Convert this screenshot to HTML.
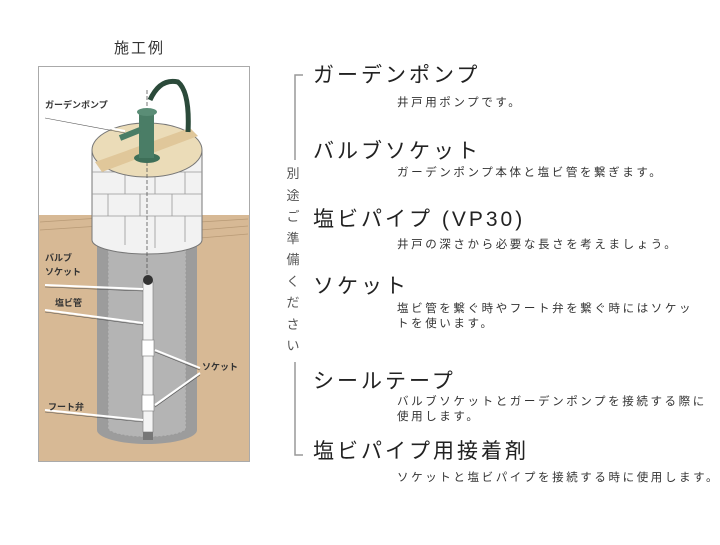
<!DOCTYPE html>
<html><head><meta charset="utf-8"><style>
body{margin:0;width:720px;height:545px;background:#fff;position:relative;overflow:hidden;font-family:"Liberation Sans","Noto Sans CJK JP",sans-serif;color:#222}
.h{position:absolute;left:313px;font-size:21px;letter-spacing:3px;white-space:nowrap;line-height:24px}
.b{position:absolute;left:397px;font-size:11.5px;letter-spacing:2.6px;line-height:15px;white-space:nowrap;color:#333}
.lbl{font-family:"Liberation Sans","Noto Sans CJK JP",sans-serif;font-size:9px;font-weight:bold;fill:#333}
</style></head><body>
<div style="position:absolute;left:114px;top:37px;font-size:15px;letter-spacing:2px;color:#333">施工例</div>
<svg width="720" height="545" style="position:absolute;left:0;top:0">
<rect x="38.5" y="66.5" width="211" height="395" fill="#fff" stroke="#aaa"/>
<rect x="39" y="215" width="210" height="246" fill="#d7b995"/>
<g stroke="#b89a76" stroke-width="0.8">
<line x1="40" y1="222" x2="100" y2="218"/><line x1="40" y1="230" x2="100" y2="226"/><line x1="200" y1="222" x2="248" y2="219"/><line x1="200" y1="230" x2="248" y2="226"/><line x1="200" y1="238" x2="248" y2="234"/></g>
<path d="M97 240 L197 240 L197 430 A50 14 0 0 1 97 430 Z" fill="#9c9c9c"/>
<path d="M108 250 L186 250 L186 428 A39 9 0 0 1 108 428 Z" fill="#b4b4b4" stroke="#999" stroke-dasharray="2 2"/>
<path d="M92 150 L202 150 L202 240 A55 14 0 0 1 92 240 Z" fill="#f2f2f2" stroke="#777"/>
<g stroke="#999" stroke-width="0.8">
<line x1="92" y1="172" x2="202" y2="172"/><line x1="92" y1="194" x2="202" y2="194"/><line x1="92" y1="216" x2="202" y2="216"/>
<line x1="112" y1="150" x2="112" y2="172"/><line x1="140" y1="150" x2="140" y2="172"/><line x1="170" y1="150" x2="170" y2="172"/>
<line x1="125" y1="172" x2="125" y2="194"/><line x1="155" y1="172" x2="155" y2="194"/><line x1="185" y1="172" x2="185" y2="194"/>
<line x1="108" y1="194" x2="108" y2="216"/><line x1="140" y1="194" x2="140" y2="216"/><line x1="172" y1="194" x2="172" y2="216"/>
<line x1="125" y1="216" x2="125" y2="245"/><line x1="155" y1="216" x2="155" y2="248"/><line x1="185" y1="216" x2="185" y2="242"/></g>
<ellipse cx="147" cy="150" rx="55" ry="27" fill="#ebdcb8" stroke="#777"/>
<path d="M95 162 L190 128 L198 136 L102 172 Z" fill="#e0c79a"/>
<line x1="147" y1="90" x2="147" y2="275" stroke="#555" stroke-dasharray="4 2" stroke-width="0.8"/>
<ellipse cx="147" cy="158" rx="13" ry="5" fill="#3e6f58"/>
<rect x="139" y="112" width="15" height="46" fill="#4a7d66"/>
<ellipse cx="147" cy="112" rx="10" ry="4" fill="#5a8d76"/>
<path d="M150 100 Q160 78 178 82 Q190 92 188 132" fill="none" stroke="#2b4a3a" stroke-width="5"/>
<path d="M140 130 L120 138" stroke="#4a7d66" stroke-width="6"/>
<rect x="143" y="282" width="10" height="150" fill="#f4f4f4" stroke="#888" stroke-width="0.7"/>
<circle cx="148" cy="280" r="5" fill="#333"/>
<rect x="142" y="340" width="12" height="16" fill="#fff" stroke="#888" stroke-width="0.7"/>
<rect x="142" y="395" width="12" height="16" fill="#fff" stroke="#888" stroke-width="0.7"/>
<rect x="143" y="432" width="10" height="8" fill="#777"/>
<g stroke="#fff" stroke-width="2"><line x1="45" y1="116" x2="125" y2="131"/><line x1="45" y1="285" x2="143" y2="289"/><line x1="45" y1="310" x2="143" y2="323"/><line x1="155" y1="350" x2="200" y2="368"/><line x1="155" y1="405" x2="200" y2="373"/><line x1="45" y1="410" x2="143" y2="420"/></g>
<g stroke="#555" stroke-width="0.6"><line x1="45" y1="118" x2="125" y2="133"/><line x1="45" y1="287" x2="143" y2="291"/><line x1="45" y1="312" x2="143" y2="325"/><line x1="155" y1="352" x2="200" y2="370"/><line x1="155" y1="407" x2="200" y2="375"/><line x1="45" y1="412" x2="143" y2="422"/></g>
<text class="lbl" x="45" y="108">ガーデンポンプ</text>
<text class="lbl" x="45" y="261">バルブ</text><text class="lbl" x="45" y="275">ソケット</text>
<text class="lbl" x="55" y="306">塩ビ管</text>
<text class="lbl" x="202" y="370">ソケット</text>
<text class="lbl" x="48" y="410">フート弁</text>
<path d="M303 75 L295 75 L295 160 M295 362 L295 455 L303 455" fill="none" stroke="#999" stroke-width="1.5"/>
</svg>
<div style="position:absolute;left:286px;top:163px;width:14px;font-size:13px;line-height:21.5px;color:#555;text-align:center">別<br>途<br>ご<br>準<br>備<br>く<br>だ<br>さ<br>い</div>
<div class="h" style="top:64px">ガーデンポンプ</div>
<div class="b" style="top:96px">井戸用ポンプです。</div>
<div class="h" style="top:140px">バルブソケット</div>
<div class="b" style="top:166px">ガーデンポンプ本体と塩ビ管を繋ぎます。</div>
<div class="h" style="top:208px">塩ビパイプ (VP30)</div>
<div class="b" style="top:238px">井戸の深さから必要な長さを考えましょう。</div>
<div class="h" style="top:275px">ソケット</div>
<div class="b" style="top:302px">塩ビ管を繋ぐ時やフート弁を繋ぐ時にはソケッ<br>トを使います。</div>
<div class="h" style="top:370px">シールテープ</div>
<div class="b" style="top:395px">バルブソケットとガーデンポンプを接続する際に<br>使用します。</div>
<div class="h" style="top:440px">塩ビパイプ用接着剤</div>
<div class="b" style="top:471px">ソケットと塩ビパイプを接続する時に使用します。</div>
</body></html>
